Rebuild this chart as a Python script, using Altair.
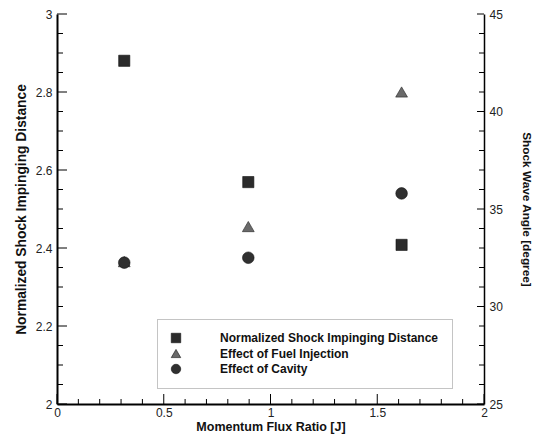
import altair as alt
import pandas as pd

# ---- data ----
momentum = [0.315, 0.896, 1.614]
shock_distance = [2.88, 2.569, 2.408]      # left axis
fuel_angle = [32.3, 34.1, 41.0]            # right axis
cavity_angle = [32.25, 32.5, 35.8]         # right axis

series_names = ["Normalized Shock Impinging Distance",
                "Effect of Fuel Injection",
                "Effect of Cavity"]

x_major = [0, 0.5, 1, 1.5, 2]
x_minor = [0.1, 0.2, 0.3, 0.4, 0.6, 0.7, 0.8, 0.9, 1.1, 1.2, 1.3, 1.4,
           1.6, 1.7, 1.8, 1.9]
left_major = [2, 2.2, 2.4, 2.6, 2.8, 3]
left_minor = [2.05, 2.1, 2.15, 2.25, 2.3, 2.35, 2.45, 2.5, 2.55, 2.65,
              2.7, 2.75, 2.85, 2.9, 2.95]
right_major = [25, 30, 35, 40, 45]
right_minor = [26, 27, 28, 29, 31, 32, 33, 34, 36, 37, 38, 39, 41, 42, 43, 44]

W, H = 427, 390
FONT = "Liberation Sans"

df_sq = pd.DataFrame({"x": momentum, "y": shock_distance, "series": series_names[0]})
df_tri = pd.DataFrame({"x": momentum, "y": fuel_angle, "series": series_names[1]})
df_cir = pd.DataFrame({"x": momentum, "y": cavity_angle, "series": series_names[2]})

xscale = alt.Scale(domain=[0, 2], nice=False, zero=False)
lscale = alt.Scale(domain=[2, 3], nice=False, zero=False)
rscale = alt.Scale(domain=[25, 45], nice=False, zero=False)

shape_enc = alt.Shape("series:N", title=None,
                      scale=alt.Scale(domain=series_names,
                                      range=["square", "triangle-up", "circle"]))
color_enc = alt.Color("series:N", title=None,
                      scale=alt.Scale(domain=series_names,
                                      range=["#2b2b2b", "#6a6a6a", "#303030"]),
                      legend=alt.Legend(orient="none", legendX=100, legendY=305,
                                        direction="vertical"))

x_axis = alt.Axis(title="Momentum Flux Ratio [J]", values=x_major, format="~g",
                  tickSize=0, labelPadding=3, titlePadding=2, labelFlush=False,
                  labelOverlap=False, grid=False, domainWidth=2, domainColor="black",
                  titleFontSize=12.5)


def X(field):
    return alt.X(field, scale=xscale, axis=x_axis)


sq = alt.Chart(df_sq).mark_point(filled=True, opacity=1, size=125,
                                 stroke="#111", strokeWidth=0.6).encode(
    x=X("x:Q"),
    y=alt.Y("y:Q", scale=lscale,
            axis=alt.Axis(title="Normalized Shock Impinging Distance", orient="left",
                          values=left_major, format="~g", tickSize=0, labelPadding=5,
                          titlePadding=7, labelFlush=False, labelOverlap=False,
                          grid=False, domainWidth=2, domainColor="black",
                          titleFontSize=13.8)),
    shape=shape_enc, color=color_enc)

tri = alt.Chart(df_tri).mark_point(filled=True, opacity=1, size=140,
                                   stroke="#222", strokeWidth=0.6).encode(
    x=X("x:Q"),
    y=alt.Y("y:Q", scale=rscale, axis=None),
    shape=shape_enc, color=color_enc)

cir = alt.Chart(df_cir).mark_point(filled=True, opacity=1, size=135,
                                   stroke="#111", strokeWidth=0.6).encode(
    x=X("x:Q"),
    y=alt.Y("y:Q", scale=rscale,
            axis=alt.Axis(title="Shock Wave Angle [degree]", orient="right",
                          values=right_major, format="~g", tickSize=0, labelPadding=5,
                          titlePadding=18, labelFlush=False, labelOverlap=False,
                          grid=False, domainWidth=1.5, domainColor="black",
                          titleFontSize=11.8)),
    shape=shape_enc, color=color_enc)


def xticks(vals, length):
    return alt.Chart(pd.DataFrame({"x": vals})).mark_rule(color="black", strokeWidth=1).encode(
        x=X("x:Q"),
        y=alt.value(H), y2=alt.value(H - length))


def lticks(vals, length):
    return alt.Chart(pd.DataFrame({"v": vals})).mark_rule(color="black", strokeWidth=1).encode(
        y=alt.Y("v:Q", scale=lscale, axis=None),
        x=alt.value(0), x2=alt.value(length))


def rticks(vals, length):
    return alt.Chart(pd.DataFrame({"v": vals})).mark_rule(color="black", strokeWidth=1).encode(
        y=alt.Y("v:Q", scale=rscale, axis=None),
        x=alt.value(W), x2=alt.value(W - length))


chart = alt.layer(
    sq, tri, cir,
    xticks(x_major, 10), xticks(x_minor, 5),
    lticks(left_major, 10), lticks(left_minor, 6),
    rticks(right_major, 7), rticks(right_minor, 5),
).resolve_scale(y="independent").properties(
    width=W, height=H,
    autosize=alt.AutoSizeParams(type="none"),
    padding={"left": 49, "top": 6, "right": 51, "bottom": 30},
).configure_view(stroke=None).configure_axis(
    labelFont=FONT, labelFontSize=12, labelColor="#222",
    titleFont=FONT, titleFontSize=12, titleFontWeight="bold", titleColor="#111",
).configure_legend(
    labelFont=FONT, labelFontSize=12, labelFontWeight="bold", labelColor="#111",
    symbolSize=90, labelOffset=38, rowPadding=3.5, padding=13,
    strokeColor="#888", strokeDash=[1, 1], symbolStrokeWidth=0.6,
    symbolStrokeColor="#111", labelLimit=400,
)

chart.save("out.html", embed_options={"renderer": "svg", "actions": False})
